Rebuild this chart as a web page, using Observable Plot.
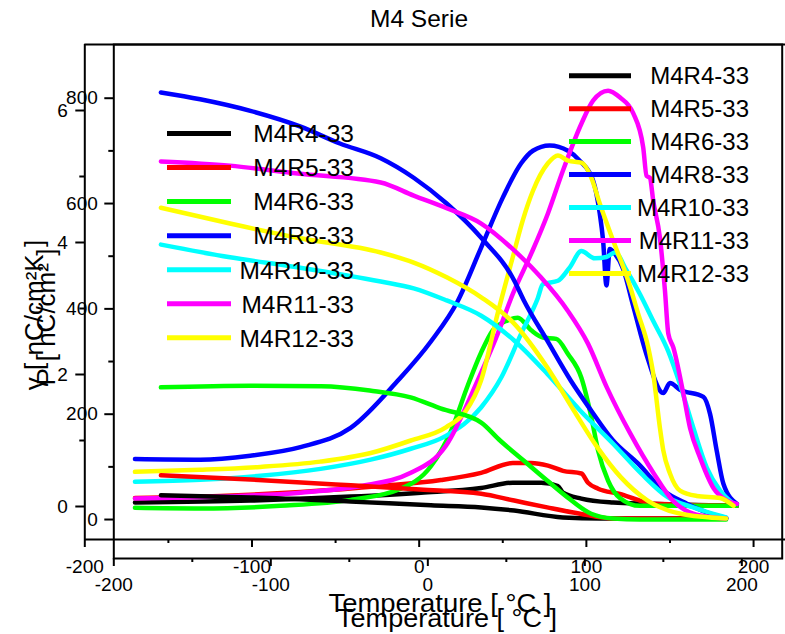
<!DOCTYPE html>
<html><head><meta charset="utf-8">
<script src="https://cdn.jsdelivr.net/npm/d3@7"></script>
<script src="https://cdn.jsdelivr.net/npm/@observablehq/plot@0.6"></script>
<style>
body{margin:0;background:#fff}
#wrap{position:relative;width:785px;height:634px;overflow:hidden;background:#fff}
#wrap svg{position:absolute;left:0;top:0}
</style></head><body><div id="wrap"></div>
<script>
const FONT = '"Liberation Sans", Arial, Helvetica, sans-serif';

// ---- series names / colours ----
const seriesNames = ["M4R4-33","M4R5-33","M4R6-33","M4R8-33","M4R10-33","M4R11-33","M4R12-33"];
const seriesColors = ["#000000","#ff0000","#00ff00","#0000ff","#00ffff","#ff00ff","#ffff00"];

// ---- tick values ----
const xTicks = [-200,-100,0,100,200];
const xMinor = [-150,-50,50,150];
const gammaTicks = [0,2,4,6];
const gammaMinor = [1,3,5];
const polTicks = [0,200,400,600,800];
const polMinor = [100,300,500,700];

// ---- pyroelectric coefficient (outer axes, 0..6) : [T, value] ----
const G_M4R4 = [[-170,0.06],[-101,0.09],[-41,0.15],[1,0.21],[37,0.28],[56,0.36],[73,0.36],[83,0.31],[86,0.21],[97,0.12],[116,0.06],[137,0.04],[190,0.01]];
const G_M4R5 = [[-170,0.13],[-119,0.16],[-71,0.22],[-23,0.31],[13,0.40],[37,0.51],[56,0.66],[67,0.66],[77,0.62],[86,0.54],[97,0.50],[101,0.36],[107,0.27],[120,0.19],[132,0.09],[140,0.04],[190,0.01]];
const G_M4R6 = [[-170,-0.02],[-131,-0.03],[-83,0.01],[-41,0.10],[-11,0.27],[7,0.61],[19,1.14],[29,1.83],[37,2.33],[44,2.67],[53,2.82],[59,2.86],[67,2.67],[74,2.56],[82,2.54],[89,2.31],[97,1.95],[103,1.35],[107,0.85],[113,0.39],[120,0.13],[132,0.01],[190,0.01]];
const G_M4R8 = [[-170,0.72],[-131,0.71],[-101,0.77],[-71,0.90],[-41,1.19],[-13,1.90],[7,2.50],[23,3.11],[37,3.92],[50,4.68],[61,5.20],[68,5.39],[78,5.47],[89,5.39],[96,5.24],[104,4.94],[108,4.44],[110,4.03],[112,3.35],[114,3.90],[117,3.83],[122,3.60],[128,3.04],[136,2.30],[146,1.72],[150,1.87],[156,1.77],[170,1.66],[174,1.40],[178,0.84],[182,0.34],[190,0.04]];
const G_M4R10 = [[-170,0.375],[-131,0.405],[-95,0.465],[-59,0.57],[-29,0.71],[-5,0.875],[16,1.07],[37,1.50],[49,1.95],[61,2.62],[71,3.16],[74,3.37],[83,3.42],[90,3.62],[97,3.87],[105,3.76],[112,3.78],[117,3.85],[124,3.58],[132,3.22],[140,2.81],[149,2.35],[156,1.85],[164,1.19],[172,0.59],[180,0.24],[188,0.04]];
const G_M4R11 = [[-170,0.12],[-119,0.15],[-71,0.21],[-35,0.31],[-5,0.51],[16,0.92],[35,1.91],[47,2.62],[56,3.22],[67,3.83],[77,4.44],[86,5.09],[97,5.80],[104,6.15],[113,6.30],[120,6.20],[128,5.96],[134,5.44],[136,5.01],[138,4.98],[140,4.63],[144,4.07],[147,3.27],[149,2.62],[152,2.41],[158,1.71],[162,1.19],[168,0.74],[176,0.28],[184,0.09],[190,0.04]];
const G_M4R12 = [[-170,0.525],[-131,0.556],[-95,0.60],[-59,0.68],[-29,0.81],[-5,1.00],[16,1.20],[28,1.45],[37,1.91],[47,2.93],[56,3.78],[62,4.34],[68,4.78],[77,5.20],[83,5.32],[89,5.24],[97,5.21],[103,4.98],[108,4.59],[116,4.03],[125,3.42],[131,2.92],[137,2.41],[140,2.01],[144,1.19],[146,0.85],[150,0.50],[156,0.24],[166,0.16],[180,0.13],[188,0.01]];

// ---- polarization (inner axes, 0..800) : [T, value] ----
const P_M4R4 = [[-170,46],[-113,42],[-49,34],[2,27],[34,23],[55,17],[86,4],[110,2],[190,2]];
const P_M4R5 = [[-170,84],[-113,76],[-49,65],[-5,57],[34,49],[55,36],[76,23],[97,11],[118,2],[190,2]];
const P_M4R6 = [[-170,251],[-113,254],[-68,253],[-37,245],[-11,232],[8,211],[34,184],[46,150],[61,112],[76,74],[89,42],[104,11],[118,2],[135,0],[190,0]];
const P_M4R8 = [[-170,811],[-145,798],[-113,776],[-81,746],[-56,714],[-30,686],[-9,649],[12,600],[34,535],[55,454],[61,417],[76,340],[91,264],[104,207],[118,150],[134,106],[150,55],[165,30],[180,11],[190,3]];
const P_M4R10 = [[-170,522],[-126,498],[-83,479],[-30,452],[-9,439],[12,416],[34,387],[55,340],[76,277],[97,207],[118,144],[136,87],[153,42],[169,23],[190,4]];
const P_M4R11 = [[-170,680],[-126,672],[-83,657],[-30,640],[-9,615],[12,591],[34,562],[55,511],[72,460],[89,397],[102,334],[114,251],[129,163],[144,87],[156,36],[169,11],[182,4],[190,2]];
const P_M4R12 = [[-170,592],[-126,562],[-83,535],[-30,507],[-9,488],[12,460],[34,422],[55,372],[76,289],[93,207],[108,137],[123,80],[140,36],[161,11],[190,2]];

const gammaSeries = [G_M4R4,G_M4R5,G_M4R6,G_M4R8,G_M4R10,G_M4R11,G_M4R12];
const polSeries = [P_M4R4,P_M4R5,P_M4R6,P_M4R8,P_M4R10,P_M4R11,P_M4R12];
const toRows = list => list.flatMap((arr,i)=>arr.map(([T,v])=>({T, v, s: seriesNames[i]})));
const gammaData = toRows(gammaSeries);
const polData = toRows(polSeries);

const fmt = d => String(d);
const svgStyle = {background:"transparent", overflow:"visible", fontFamily: FONT, fontSize:"19px", color:"#000"};
const colorScale = {domain: seriesNames, range: seriesColors};

// outer axes: pyroelectric coefficient
const outer = Plot.plot({
  width: 785, height: 634,
  marginLeft: 84.3, marginRight: 0, marginTop: 44, marginBottom: 95,
  style: svgStyle,
  x: {domain: [-200, 219.1]},
  y: {domain: [-0.5, 7]},
  color: colorScale,
  marks: [
    Plot.line(gammaData, {x:"T", y:"v", z:"s", stroke:"s", strokeWidth:4.5, curve:"monotone-x"}),
    Plot.ruleX([-200], {strokeWidth: 2}),
    Plot.ruleY([-0.5, 7], {strokeWidth: 2}),
    Plot.axisX(xTicks, {anchor:"bottom", tickSize:8, tickPadding:12, tickFormat: fmt, fontSize:19, strokeWidth:2, label:null}),
    Plot.axisX(xMinor, {anchor:"bottom", tickSize:4, tickFormat: () => "", strokeWidth:2, label:null}),
    Plot.axisY(gammaTicks, {anchor:"left", tickSize:9, tickPadding:8, tickFormat: fmt, fontSize:19, strokeWidth:2, label:null}),
    Plot.axisY(gammaMinor, {anchor:"left", tickSize:5, tickFormat: () => "", strokeWidth:2, label:null})
  ]
});

// inner axes: polarization
const inner = Plot.plot({
  width: 785, height: 634,
  marginLeft: 113.3, marginRight: 3.3, marginTop: 44, marginBottom: 76,
  style: svgStyle,
  x: {domain: [-200, 225.7]},
  y: {domain: [-74, 902]},
  color: colorScale,
  marks: [
    Plot.line(polData, {x:"T", y:"v", z:"s", stroke:"s", strokeWidth:4.5, curve:"monotone-x"}),
    Plot.frame({strokeWidth: 2}),
    Plot.axisX(xTicks, {anchor:"bottom", tickSize:8, tickPadding:11, tickFormat: fmt, fontSize:19, strokeWidth:2, label:null}),
    Plot.axisX(xMinor, {anchor:"bottom", tickSize:4, tickFormat: () => "", strokeWidth:2, label:null}),
    Plot.axisY(polTicks, {anchor:"left", tickSize:9, tickPadding:7, tickFormat: fmt, fontSize:19, strokeWidth:2, label:null}),
    Plot.axisY(polMinor, {anchor:"left", tickSize:5, tickFormat: () => "", strokeWidth:2, label:null})
  ]
});

const wrap = document.getElementById("wrap");
wrap.appendChild(outer);
wrap.appendChild(inner);

// ---- text overlay: title, axis titles, legends ----
const ov = d3.create("svg").attr("width",785).attr("height",634)
  .style("font-family", FONT).style("overflow","visible");
ov.append("text").attr("x",419).attr("y",27.3).attr("text-anchor","middle").attr("font-size",24.5).text("M4 Serie");
ov.append("text").attr("x",440).attr("y",611.5).attr("text-anchor","middle").attr("font-size",26)
  .attr("textLength",223).attr("lengthAdjust","spacingAndGlyphs").text("Temperature [ °C ]");
ov.append("text").attr("x",447).attr("y",626.5).attr("text-anchor","middle").attr("font-size",26)
  .attr("textLength",220).attr("lengthAdjust","spacingAndGlyphs").text("Temperature [ °C ]");
ov.append("text").attr("transform","translate(43,315) rotate(-90)").attr("text-anchor","middle").attr("font-size",26).text("γ [ nC/cm²K ]");
ov.append("text").attr("transform","translate(55,317) rotate(-90)").attr("text-anchor","middle").attr("font-size",26).text("P [ nC/cm² ]");

function legend(x1, x2, xText, y0, dy, fs) {
  seriesNames.forEach((name, i) => {
    const y = y0 + i*dy;
    ov.append("line").attr("x1",x1).attr("x2",x2).attr("y1",y).attr("y2",y)
      .attr("stroke",seriesColors[i]).attr("stroke-width",5);
    ov.append("text").attr("x",xText).attr("y",y + fs*0.36).attr("text-anchor","end")
      .attr("font-size",fs).text(name);
  });
}
legend(167, 231, 354, 133.5, 34.05, 24.5);
legend(569, 631, 749, 75.7, 32.95, 24);
wrap.appendChild(ov.node());
</script></body></html>
